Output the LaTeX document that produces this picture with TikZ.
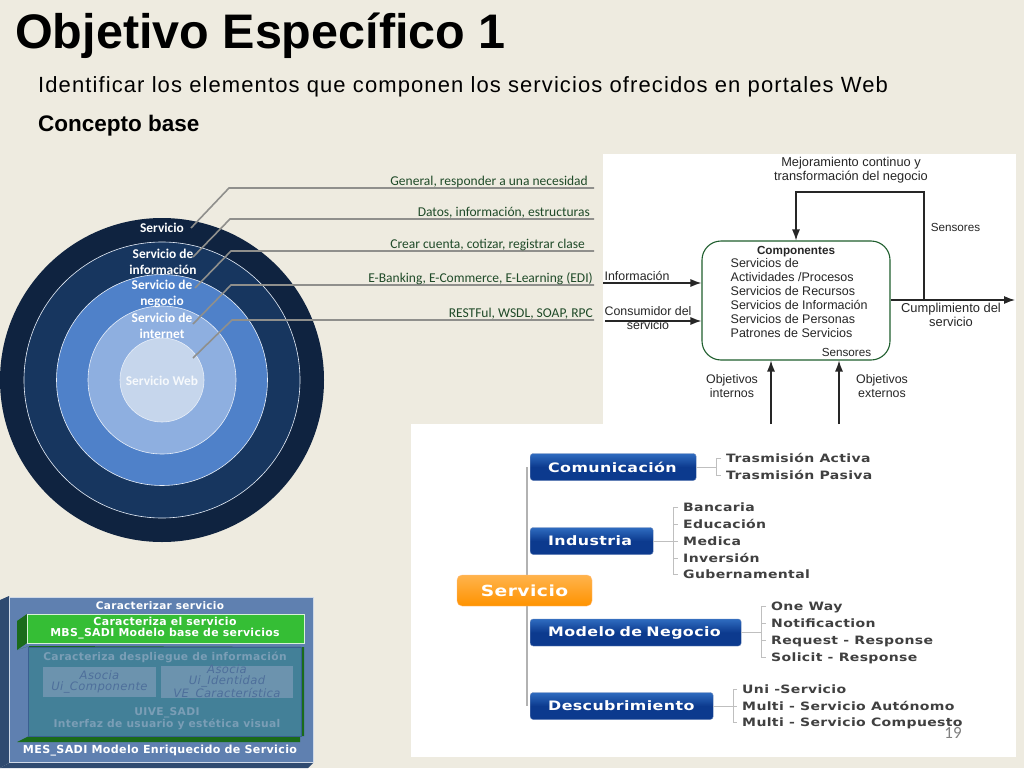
\documentclass[tikz,border=0pt]{standalone}
\usepackage{fontspec}
\setmainfont{Liberation Sans}
\newfontfamily\carl{Carlito}
\newfontfamily\deja[LetterSpace=3]{DejaVu Sans}
\newfontfamily\dejax[LetterSpace=3,FakeStretch=1.22]{DejaVu Sans}
\newfontfamily\subt[LetterSpace=5]{Liberation Sans}
\newcommand\fs[2]{\fontsize{#1}{#2}\selectfont}
\usetikzlibrary{arrows.meta}
\definecolor{bg}{HTML}{EEEBE0}
\definecolor{ringa}{HTML}{0F2340}
\definecolor{ringb}{HTML}{17365F}
\definecolor{ringc}{HTML}{4F81C9}
\definecolor{ringd}{HTML}{8EAFE0}
\definecolor{ringe}{HTML}{C6D6EC}
\definecolor{leader}{HTML}{8F8F8C}
\definecolor{lbl}{HTML}{1F4A28}
\definecolor{boxgreen}{HTML}{1F5E2E}
\definecolor{blueb}{HTML}{0C3A8E}
\definecolor{bluet}{HTML}{2F6CC0}
\definecolor{sadi}{HTML}{5F80B0}
\definecolor{sadig}{HTML}{35BE35}
\definecolor{sadidg}{HTML}{1A6B1A}
\definecolor{saditeal}{HTML}{438098}
\definecolor{sadibox}{HTML}{6C93AE}
\definecolor{sadiedge}{HTML}{3A5F90}
\definecolor{sadiface}{HTML}{2F4A70}
\tikzset{
 ring/.style={circle,draw=white!80!ringd,line width=.6pt,minimum size=#1,inner sep=0},
 ringtxt/.style={text=white,font=\carl\bfseries\fs{13.4}{16},align=center,inner sep=0},
 leadline/.style={draw=leader,line width=1.6pt},
 leadtxt/.style={text=lbl,font=\carl\fs{13.5}{15},anchor=east,inner sep=0},
 flow/.style={line width=1.2pt,draw=black!85},
 flowarr/.style={flow,-{Latex[length=11pt,width=8pt]}},
 difftxt/.style={text=black!85,font=\fs{12.4}{14},inner sep=0,align=center},
 branch/.style={draw=black!25,line width=.8pt},
 trunk/.style={draw=black!30,line width=2pt},
 catbox/.style={rounded corners=3pt,top color=bluet,bottom color=blueb,middle color=blueb,draw=blueb!60,line width=.4pt,inner sep=0,text=white,font=\dejax\bfseries\fs{13}{14},anchor=west,minimum height=27pt,minimum width=#1,text width=#1-36pt,align=left},
 item/.style={text=black!75,font=\dejax\bfseries\fs{11.5}{13},anchor=west,inner sep=0,text height=12pt,text depth=2.5pt},
 sadit/.style={text=white,font=\deja\bfseries\fs{10.5}{11},align=center,inner sep=0},
 faint/.style={text=sadibox!90!white,font=\deja\bfseries\fs{10.7}{11},align=center,inner sep=0},
 faintit/.style={text=sadiedge!90!white,font=\deja\itshape\fs{11.6}{11},align=center,inner sep=0},
}
\begin{document}
\begin{tikzpicture}[x=1pt,y=-1pt]
\useasboundingbox (0,0) rectangle (1024,768);
\fill[bg] (0,0) rectangle (1024,768);
% headings
\node[anchor=west,inner sep=0,font=\bfseries\fs{48.5}{50},text=black] (title) at (15,36) {Objetivo Específico 1};
\node[anchor=west,inner sep=0,font=\subt\fs{22}{26},text=black] (sub) at (38,87) {Identificar los elementos que componen los servicios ofrecidos en portales Web};
\node[anchor=west,inner sep=0,font=\bfseries\fs{22.5}{26},text=black] (base) at (38,126) {Concepto base};
% rings
\node[circle,fill=ringa,minimum size=324pt,inner sep=0] (r1) at (162,380) {};
\node[ring=276pt,fill=ringb] (r2) at (162,380) {};
\node[ring=211pt,fill=ringc] (r3) at (162,380) {};
\node[ring=148pt,fill=ringd] (r4) at (162,380) {};
\node[ring=84pt,fill=ringe] (r5) at (162,380) {};
\node[ringtxt] (t1) at (162,228) {Servicio};
\node[ringtxt] (t2) at (163,262) {Servicio de\\información};
\node[ringtxt] (t3) at (162,294) {Servicio de\\negocio};
\node[ringtxt] (t4) at (162,326) {Servicio de\\internet};
\node[ringtxt,text=white!85!ringe] (t5) at (162,381) {Servicio Web};
% leaders
\coordinate (a1) at (191,228); \coordinate (b1) at (229,188); \coordinate (c1) at (594,188);
\coordinate (a2) at (193,257); \coordinate (b2) at (230,219); \coordinate (c2) at (594,219);
\coordinate (a3) at (195,288); \coordinate (b3) at (231,251); \coordinate (c3) at (594,251);
\coordinate (a4) at (193,324); \coordinate (b4) at (231,285); \coordinate (c4) at (594,285);
\coordinate (a5) at (193,358); \coordinate (b5) at (232,320); \coordinate (c5) at (594,320);
\foreach \i in {1,...,5}{\draw[leadline] (a\i) -- (b\i) -- (c\i);}
\node[leadtxt] (l1) at (588,182) {General, responder a una necesidad};
\node[leadtxt] (l2) at (590,212.5) {Datos, información, estructuras};
\node[leadtxt] (l3) at (585,244.5) {Crear cuenta, cotizar, registrar clase};
\node[leadtxt] (l4) at (593,278.5) {E-Banking, E-Commerce, E-Learning (EDI)};
\node[leadtxt] (l5) at (593,314) {RESTFul, WSDL, SOAP, RPC};
% top right panel
\fill[white] (603,154) rectangle (1016,424);
\node[draw=boxgreen,line width=1.1pt,rounded corners=19pt,minimum width=188pt,minimum height=119pt,inner sep=0] (comp) at (796,300.5) {};
\node[difftxt,font=\bfseries\fs{11.7}{14}] (comptitle) at (796,251.5) {Componentes};
\node[difftxt,align=left,anchor=north west,font=\fs{12.5}{13.9}] (complist) at (730.5,258.5) {Servicios de\\Actividades /Procesos\\Servicios de Recursos\\Servicios de Información\\Servicios de Personas\\Patrones de Servicios};
\node[difftxt,font=\fs{11.7}{14}] (sensin) at (846.5,352) {Sensores};
\node[difftxt,font=\fs{12.8}{14}] (mej) at (851,170) {Mejoramiento continuo y\\transformación del negocio};
\node[difftxt,font=\fs{11.7}{14}] (sens) at (955.5,227) {Sensores};
\node[difftxt] (inf) at (637,276) {Información};
\node[difftxt] (cons) at (648,318.5) {Consumidor del\\servicio};
\node[difftxt,font=\fs{12.9}{14}] (cump) at (951,315) {Cumplimiento del\\servicio};
\node[difftxt] (oint) at (732,386) {Objetivos\\internos};
\node[difftxt] (oext) at (882,386) {Objetivos\\externos};
\coordinate (fbs) at (924,300); \coordinate (fba) at (924,192); \coordinate (fbb) at (796,192);
\coordinate (oute) at (1015,300); \coordinate (inf0) at (603,283); \coordinate (con0) at (605,321);
\draw[flowarr] (fbs) -- (fba) -- (fbb) -- (comp.north -| fbb);
\draw[flowarr] (comp.east |- fbs) -- (oute);
\draw[flowarr] (inf0) -- (comp.west |- inf0);
\draw[flowarr] (con0) -- (comp.west |- con0);
% lower right panel
\fill[white] (411,424) rectangle (1016,757);
\coordinate (u1) at (771,424); \coordinate (u2) at (839,424);
\draw[flowarr] (u1) -- (u1 |- comp.south);
\draw[flowarr] (u2) -- (u2 |- comp.south);
% tree
\node[catbox=166pt] (cat1) at (530,467) {Comunicación};
\node[catbox=123pt] (cat2) at (530,541) {Industria};
\node[catbox=211pt] (cat3) at (530,632.5) {Modelo de Negocio};
\node[catbox=183pt] (cat4) at (530,706) {Descubrimiento};
\coordinate (tt) at (527,467); \coordinate (tb) at (527,706);
\draw[trunk] (tt) -- (tb);
\node[rounded corners=5pt,top color=orange!85!yellow!70!white,bottom color=orange!85!yellow,draw=orange!50,inner sep=0,minimum width=135pt,minimum height=31pt,text=white,font=\dejax\bfseries\fs{15.3}{18}] (root) at (524.5,590.5) {Servicio};
\node[item] (i11) at (726,458) {Trasmisión Activa};
\node[item] (i12) at (726,475) {Trasmisión Pasiva};
\node[item] (i21) at (683,507) {Bancaria};
\node[item] (i22) at (683,524) {Educación};
\node[item] (i23) at (683,541) {Medica};
\node[item] (i24) at (683,558) {Inversión};
\node[item] (i25) at (683,574) {Gubernamental};
\node[item] (i31) at (771,606) {One Way};
\node[item] (i32) at (771,623) {Notificaction};
\node[item] (i33) at (771,640) {Request - Response};
\node[item] (i34) at (771,657) {Solicit - Response};
\node[item] (i41) at (742,689) {Uni -Servicio};
\node[item] (i42) at (742,706) {Multi - Servicio Autónomo};
\node[item] (i43) at (742,722) {Multi - Servicio Compuesto};
\draw[branch] (cat1.east) -- (716,467) ([xshift=-5pt]i11.west) -- (716,458) -- (716,475) -- ([xshift=-5pt]i12.west);
\draw[branch] (cat2.east) -- ([xshift=-5pt]i23.west) ([xshift=-5pt]i21.west) -- (673,507) -- (673,574) -- ([xshift=-5pt]i25.west) (673,524) -- ([xshift=-5pt]i22.west) (673,558) -- ([xshift=-5pt]i24.west);
\draw[branch] (cat3.east) -- (761,632.5) ([xshift=-5pt]i31.west) -- (761,606) -- (761,657) -- ([xshift=-5pt]i34.west) (761,623) -- ([xshift=-5pt]i32.west) (761,640) -- ([xshift=-5pt]i33.west);
\draw[branch] (cat4.east) -- ([xshift=-5pt]i42.west) ([xshift=-5pt]i41.west) -- (733,689) -- (733,722) -- ([xshift=-5pt]i43.west);
\node[text=black!50,inner sep=0,font=\carl\fs{17}{20}] (pg) at (953,733) {19};
% bottom-left model
\fill[sadiface] (0,600) -- (9,596) -- (9,763) -- (0,768) -- cycle;
\fill[sadiface] (0,768) -- (9,763) -- (313,763) -- (308,768) -- cycle;
\node[draw=white!70!sadi,line width=.8pt,fill=sadi,minimum width=304pt,minimum height=165pt,inner sep=0] (outer) at (161,680) {};
\fill[sadidg] (17,621) -- (27,614) -- (27,643) -- (17,650) -- cycle;
\node[draw=white!80!sadig,line width=.6pt,fill=sadig,minimum width=277pt,minimum height=29pt,inner sep=0] (gbox) at (165.5,628.5) {};
\fill[sadidg] (17,650) -- (29,646) -- (29,736) -- (17,742) -- (300,742) -- (300,736) -- (304,736) -- (304,647) -- (29,646) -- cycle;
\node[draw=sadiedge,line width=1.4pt,fill=saditeal,minimum width=273pt,minimum height=89pt,inner sep=0] (tbox) at (165,692) {};
\node[fill=sadibox,minimum width=113pt,minimum height=30pt,inner sep=0] (ib1) at (99.5,682) {};
\node[fill=sadibox,minimum width=132pt,minimum height=32pt,inner sep=0] (ib2) at (227,682) {};
\node[sadit] (o1) at (160,606) {Caracterizar servicio};
\node[sadit,font=\deja\bfseries\fs{10.9}{11}] (o2) at (165,628.5) {Caracteriza el servicio\\MBS\_SADI Modelo base de servicios};
\node[faint] (o3) at (165,657.5) {Caracteriza despliegue de información};
\node[faintit] (o4) at (99.5,682) {Asocia\\Ui\_Componente};
\node[faintit] (o5) at (227,682) {Asocia\\Ui\_Identidad\\VE\_Característica};
\node[faint] (o6) at (167,718.5) {UIVE\_SADI\\Interfaz de usuario y estética visual};
\node[sadit,font=\deja\bfseries\fs{11.1}{13}] (o7) at (160,751) {MES\_SADI Modelo Enriquecido de Servicio};
\end{tikzpicture}
\end{document}
